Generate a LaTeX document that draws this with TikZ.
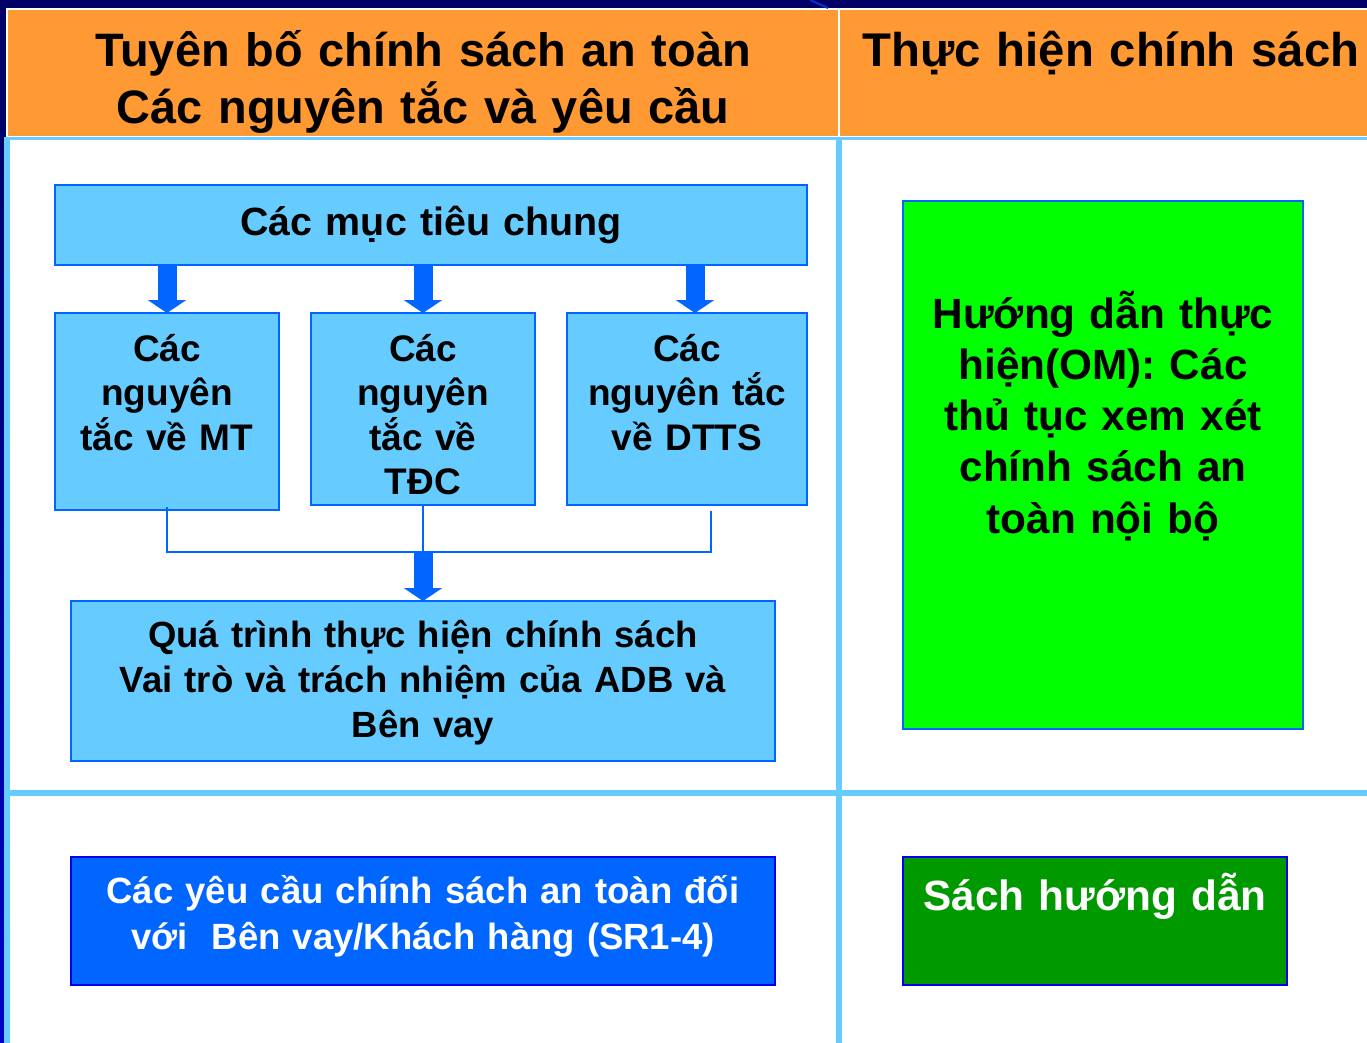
\documentclass[tikz,border=0pt]{standalone}
\usepackage{fontspec}
\setmainfont{Liberation Sans}
\usetikzlibrary{arrows.meta,calc}
\definecolor{navy}{HTML}{000066}
\definecolor{navyb}{HTML}{0000C8}
\definecolor{lb}{HTML}{66CCFF}
\definecolor{orng}{HTML}{FF9933}
\definecolor{bl}{HTML}{0066FF}
\definecolor{pureblue}{HTML}{0000EE}
\definecolor{diagb}{HTML}{0033CC}
\definecolor{gr}{HTML}{00FF00}
\definecolor{dgr}{HTML}{009900}
\newcommand\myfs[2]{\fontsize{#1pt}{#2pt}\selectfont\bfseries}
\begin{document}
\begin{tikzpicture}[x=1pt,y=-1pt,
  box/.style={draw=bl, line width=2pt, fill=lb, inner sep=0pt, outer sep=0pt},
  txt/.style={anchor=base, align=center, inner sep=0pt, text width=#1},
  blockarrow/.style={draw=bl, line width=19pt, -{Triangle[width=38pt,length=13pt]}},
  conn/.style={draw=bl, line width=2pt}]
\useasboundingbox (0,0) rectangle (1367,1043);
% background frame
\fill[white] (0,0) rectangle (1367,1043);
\fill[navy] (0,0) rectangle (1367,8);
\fill[navy] (0,0) rectangle (6,137);
\shade[top color=navy, bottom color=navyb] (0,137) rectangle (4,1043);
\draw[diagb, line width=2pt] (810,0) -- (828,8);
\fill[orng] (8,10) rectangle (1367,136);
\draw[white, line width=2pt] (839,10) -- (839,136);
\fill[lb] (4,137) rectangle (1367,140);
\fill[lb] (4,137) rectangle (10,1043);
\fill[lb] (836,137) rectangle (842,1043);
\fill[lb] (10,790) rectangle (1367,796);
% headers
\node[txt=800, font={\myfs{46.9}{57}}] (h1) at (423,67) {Tuyên bố chính sách an toàn\\Các nguyên tắc và yêu cầu};
\node[txt=520, font={\myfs{47.3}{57}}] (h2) at (1111,67) {Thực hiện chính sách};
% boxes
\node[box, minimum width=752pt, minimum height=80pt] (top) at (431,225) {};
\node[box, minimum width=224pt, minimum height=197pt] (b1) at (167,411.5) {};
\node[box, minimum width=224pt, minimum height=192pt] (b2) at (423,409) {};
\node[box, minimum width=240pt, minimum height=192pt] (b3) at (687,409) {};
\node[box, minimum width=704pt, minimum height=160pt] (proc) at (423,681) {};
\node[box, draw=pureblue, fill=bl, minimum width=704pt, minimum height=128pt] (sr) at (423,921) {};
\node[box, fill=gr, minimum width=400pt, minimum height=528pt] (om) at (1103,465) {};
\node[box, draw=pureblue, fill=dgr, minimum width=384pt, minimum height=128pt] (man) at (1095,921) {};
% texts
\node[txt=700, font={\myfs{39.4}{48}}] (topt) at (431,235) {Các mục tiêu chung};
\node[txt=300, font={\myfs{37}{44.5}}] (b1t) at (167,361) {Các\\nguyên\\tắc về MT};
\node[txt=300, font={\myfs{37}{44.5}}] (b2t) at (423,361) {Các\\nguyên\\tắc về\\TĐC};
\node[txt=300, font={\myfs{37}{44.5}}] (b3t) at (687,361) {Các\\nguyên tắc\\về DTTS};
\node[txt=700, font={\myfs{36.5}{45}}] (proct) at (423,647) {Quá trình thực hiện chính sách\\Vai trò và trách nhiệm của ADB và\\Bên vay};
\node[txt=700, text=white, font={\myfs{36.5}{46}}] (srt) at (423,903) {Các yêu cầu chính sách an toàn đối\\với\ \ Bên vay/Khách hàng (SR1-4)};
\node[txt=400, font={\myfs{42.3}{51.3}}] (omt) at (1103,328) {Hướng dẫn thực\\hiện(OM): Các\\thủ tục xem xét\\chính sách an\\toàn nội bộ};
\node[txt=400, text=white, font={\myfs{42.3}{51}}] (mant) at (1095,910) {Sách hướng dẫn};
% arrows
\draw[blockarrow] (top.south -| b1.north) -- (b1.north);
\draw[blockarrow] (top.south -| b2.north) -- (b2.north);
\coordinate (a3) at ($(b3.north)+(8,0)$);
\draw[blockarrow] (top.south -| a3) -- (a3);
\coordinate (jn) at (423,552);
\coordinate (c3) at (711,511);
\draw[conn] ($(b1.south)+(0,-3)$) |- (jn);
\draw[conn] (b2.south) -- (jn);
\draw[conn] (jn) -| (c3);
\draw[blockarrow] (jn) -- (proc.north);
\end{tikzpicture}
\end{document}
